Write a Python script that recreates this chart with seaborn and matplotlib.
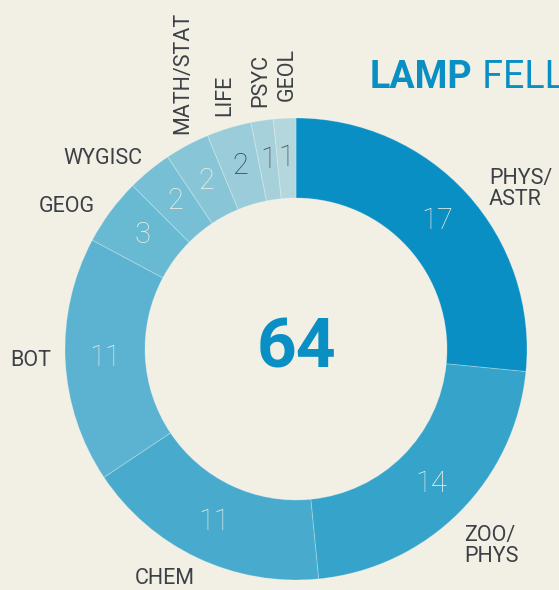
#!/usr/bin/env python3

import numpy as np
import seaborn as sns
import matplotlib as mpl
import matplotlib.pyplot as plt

sns.set_theme(style="white")
mpl.rcParams["font.family"] = ["Roboto", "DejaVu Sans"]

BG = "#f2f0e4"
BLUE = "#0a8fc4"
DARK = "#3d4147"

# data, clockwise from 12 o'clock
depts = ["PHYS/\nASTR", "ZOO/\nPHYS", "CHEM", "BOT", "GEOG", "WYGISC",
         "MATH/STAT", "LIFE", "PSYC", "GEOL"]
fellows = [17, 14, 11, 11, 3, 2, 2, 2, 1, 1]
colors = ["#0a8fc4", "#35a3ca", "#48abcd", "#5bb3d1", "#68b9d2",
          "#77bfd4", "#88c6d7", "#9acdd9", "#a6d1db", "#b3d7dc"]

# layout (figure is drawn in pixel units, 559x590)
cx, cy = 296, 590 - 349
r_out, r_in = 231, 151
lab_ang = [39.7, -49.5, -119.8, 182.8, 144.7, 128.9, 117.9, 106.9, 98.2, 92.0]
lab_r = [251, 259, 265, 245, 247, 245, 243, 244, 245, 248]
lab_ha = ["left", "left", "center", "right", "right", "right",
          "center", "center", "center", "center"]
lab_rot = [0, 0, 0, 0, 0, 0, 90, 90, 90, 90]
num_dark = [False] * 7 + [True] * 3

fig = plt.figure(figsize=(5.59, 5.90), dpi=100, facecolor=BG)
ax = fig.add_axes([0, 0, 1, 1])
ax.set_facecolor(BG)

wedges, _ = ax.pie(
    fellows,
    colors=colors,
    startangle=90,
    counterclock=False,
    center=(cx, cy),
    radius=r_out,
    frame=True,
    wedgeprops={"width": r_out - r_in, "edgecolor": (1, 1, 1, 0.25),
                "linewidth": 0.7},
)
ax.set_xlim(0, 559)
ax.set_ylim(0, 590)
ax.set_aspect("equal")
ax.axis("off")

for w, n, dark in zip(wedges, fellows, num_dark):
    mid = np.deg2rad((w.theta1 + w.theta2) / 2)
    rm = (r_out + r_in) / 2
    ax.text(cx + rm * np.cos(mid), cy + rm * np.sin(mid), str(n),
            ha="center", va="center", fontsize=21, fontweight="light",
            color=DARK if dark else BG)

for name, a, lr, ha, rot in zip(depts, lab_ang, lab_r, lab_ha, lab_rot):
    x = cx + lr * np.cos(np.deg2rad(a))
    y = cy + lr * np.sin(np.deg2rad(a))
    ax.text(x, y, name, rotation=rot, ha=ha,
            va="bottom" if rot else "center",
            fontsize=15.5, color=DARK, linespacing=1.0)

ax.text(cx, cy, str(sum(fellows)), ha="center", va="center",
        fontsize=50, fontweight="bold", color=BLUE)

t = ax.text(370, 590 - 78, "LAMP", ha="left", va="center", fontsize=27,
            fontweight="bold", color=BLUE)
ax.annotate(" FELLOWS", xy=(1, 0.5), xycoords=t, ha="left", va="center",
            fontsize=27, color=BLUE, annotation_clip=False)

fig.savefig("out.png", dpi=100, facecolor=BG)
